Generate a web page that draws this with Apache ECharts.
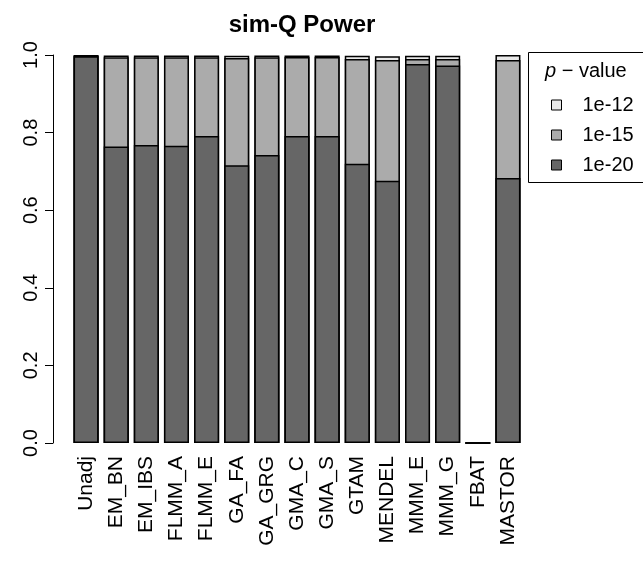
<!DOCTYPE html>
<html>
<head>
<meta charset="utf-8">
<script src="https://cdn.jsdelivr.net/npm/echarts@6/dist/echarts.min.js"></script>
<style>
  html, body { margin: 0; padding: 0; background: #fff; }
  #chart { width: 643px; height: 562px; }
</style>
</head>
<body>
<div id="chart"></div>
<script>
// Methods compared in the simulation
const categories = ['Unadj', 'EM_BN', 'EM_IBS', 'FLMM_A', 'FLMM_E', 'GA_FA', 'GA_GRG',
  'GMA_C', 'GMA_S', 'GTAM', 'MENDEL', 'MMM_E', 'MMM_G', 'FBAT', 'MASTOR'];

// Power at each significance threshold (nested: 1e-12 >= 1e-15 >= 1e-20)
const power1e12 = [1.000, 0.999, 0.999, 0.999, 0.999, 0.998, 0.999, 0.999, 0.999, 0.998, 0.997, 0.998, 0.998, 0.000, 1.000];
const power1e15 = [0.998, 0.994, 0.994, 0.994, 0.994, 0.992, 0.994, 0.995, 0.995, 0.990, 0.987, 0.990, 0.990, 0.000, 0.987];
const power1e20 = [0.997, 0.764, 0.768, 0.766, 0.791, 0.716, 0.742, 0.791, 0.791, 0.720, 0.676, 0.977, 0.973, 0.000, 0.683];

const yTicks = [0, 0.2, 0.4, 0.6, 0.8, 1.0];

const FONT = '"Liberation Sans", Arial, Helvetica, sans-serif';
const seriesNames = ['1e-12', '1e-15', '1e-20'];
const seriesColors = ['#E8E8E8', '#ABABAB', '#666666'];
const seriesData = [power1e12, power1e15, power1e20];

const chart = echarts.init(document.getElementById('chart'), null, { renderer: 'canvas' });

const option = {
  animation: false,
  backgroundColor: '#ffffff',
  title: {
    text: 'sim-Q Power',
    left: 297,
    textAlign: 'center',
    top: 8,
    textStyle: { fontFamily: FONT, fontSize: 24, fontWeight: 'bold', color: '#000' }
  },
  grid: { left: 71, right: 120, top: 55, bottom: 119, containLabel: false },
  xAxis: {
    type: 'category',
    data: categories,
    axisLine: { show: false },
    axisTick: { show: false },
    axisLabel: {
      rotate: 90,
      interval: 0,
      margin: 13,
      fontFamily: FONT,
      fontSize: 21,
      color: '#000'
    }
  },
  yAxis: {
    type: 'value',
    min: 0,
    max: 1,
    interval: 0.2,
    offset: 18,
    splitLine: { show: false },
    axisLine: { show: true, lineStyle: { color: '#000', width: 1 } },
    axisTick: { show: true, length: 8, lineStyle: { color: '#000', width: 1 } },
    axisLabel: {
      rotate: 90,
      margin: 12,
      fontFamily: FONT,
      fontSize: 20,
      color: '#000',
      formatter: v => (yTicks.some(t => Math.abs(t - v) < 1e-9) ? v.toFixed(1) : '')
    }
  },
  legend: {
    orient: 'vertical',
    left: 546,
    top: 90,
    z: 10,
    data: seriesNames,
    icon: 'rect',
    itemWidth: 10,
    itemHeight: 10,
    itemGap: 10,
    itemStyle: { borderColor: '#000', borderWidth: 1 },
    textStyle: { fontFamily: FONT, fontSize: 20, color: '#000', padding: [0, 0, 0, 16] },
    selectedMode: false
  },
  graphic: [
    {
      type: 'rect',
      z: 1,
      shape: { x: 528.5, y: 52.5, width: 140, height: 130 },
      style: { fill: '#fff', stroke: '#000', lineWidth: 1 }
    },
    {
      type: 'text',
      z: 2,
      left: 545,
      top: 61,
      style: {
        text: '{p|p}{r| \u2212 value}',
        rich: {
          p: { fontFamily: FONT, fontSize: 20, fontStyle: 'italic', fill: '#000' },
          r: { fontFamily: FONT, fontSize: 20, fill: '#000' }
        }
      }
    }
  ],
  series: seriesNames.map((name, i) => ({
    name: name,
    type: 'bar',
    data: seriesData[i],
    barWidth: 25,
    barGap: '-100%',
    z: 2 + i,
    itemStyle: { color: seriesColors[i], borderColor: '#000', borderWidth: 1.5 },
    emphasis: { disabled: true }
  }))
};

chart.setOption(option);
</script>
</body>
</html>
